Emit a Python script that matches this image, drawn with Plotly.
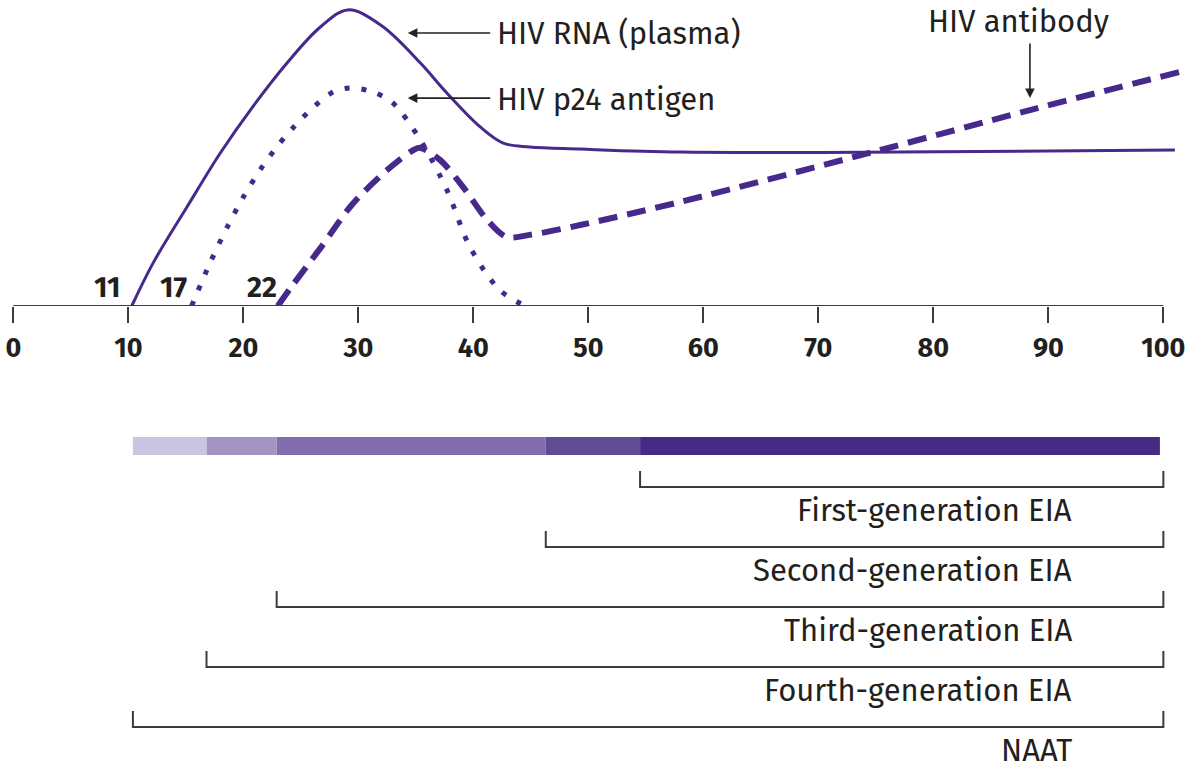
import plotly.graph_objects as go

# ---- data (days since infection, relative level 0-100) ----
rna_days = [10.3, 12.15, 15.1, 18.0, 20.8, 23.8, 26.7, 29.1, 32.0, 35.4, 37.7, 40.6, 42.6, 44.9, 49.3, 58.0, 77.1, 101.0]
rna_level = [0, 14.3, 33, 51, 66.3, 81, 93, 98.7, 93.5, 81, 71, 59.7, 54.3, 53, 52.3, 51.3, 51.3, 52]

p24_days = [15.5, 17.1, 18.6, 20.0, 21.45, 22.9, 24.3, 26.1, 27.8, 29.3, 31.3, 33.0, 35.4, 37.7, 39.7, 42.3, 44.5]
p24_level = [0, 14.3, 26.3, 36.3, 45.3, 53, 59.3, 66.3, 71.3, 72.7, 71.3, 67.7, 55.3, 38.7, 19.7, 5.3, 0]

ab_days = [23.0, 24.3, 26.7, 29.5, 32.5, 34.8, 35.4, 37.1, 39.1, 41.2, 42.9, 44.9, 49.3, 58.0, 75.4, 88.4, 101.4]
ab_level = [0, 7.0, 19.3, 34.0, 45.3, 52, 52.7, 48.7, 39.7, 28.7, 23, 23.7, 27, 34.7, 52, 65.3, 78]

milestone_labels = ["11", "17", "22"]

tick_vals = [0, 10, 20, 30, 40, 50, 60, 70, 80, 90, 100]
tick_text = [str(v) for v in tick_vals]

tests = ["First-generation EIA", "Second-generation EIA", "Third-generation EIA",
         "Fourth-generation EIA", "NAAT"]
test_start = [54.5, 46.3, 22.9, 16.8, 10.4]
test_end = [100, 100, 100, 100, 100]

window_start = [10.4, 16.8, 22.9, 46.3, 54.5]
window_end = [16.8, 22.9, 46.3, 54.5, 99.7]
window_colors = ["#cbc4e0", "#a295c4", "#826eac", "#604c95", "#462b86"]

# ---- styling ----
PURPLE = "#46298a"
TEXT = "#231f20"
FONT = "Fira Sans, Open Sans, sans-serif"
W, H = 1202, 768
X_RANGE = [-1.157, 103.36]
TOP_PX = 306           # baseline pixel height of top panel
ROW_PX = 60
LABEL_SIZE = 31

fig = go.Figure()

# top panel curves
fig.add_trace(go.Scatter(x=rna_days, y=rna_level, mode="lines",
                         line=dict(color=PURPLE, width=3, shape="spline", smoothing=1.0),
                         xaxis="x", yaxis="y", hoverinfo="skip"))
fig.add_trace(go.Scatter(x=p24_days, y=p24_level, mode="lines",
                         line=dict(color=PURPLE, width=5, dash="5px,12px", shape="spline", smoothing=0.9),
                         xaxis="x", yaxis="y", hoverinfo="skip"))
fig.add_trace(go.Scatter(x=ab_days, y=ab_level, mode="lines",
                         line=dict(color=PURPLE, width=6, dash="19px,10px", shape="spline", smoothing=0.9),
                         xaxis="x", yaxis="y", hoverinfo="skip"))

# bottom panel: window bar
fig.add_trace(go.Bar(y=[-0.683] * len(window_start), base=window_start,
                     x=[e - s for s, e in zip(window_start, window_end)],
                     orientation="h", width=0.3, marker=dict(color=window_colors, line=dict(width=0)),
                     xaxis="x2", yaxis="y2", hoverinfo="skip"))

# brackets
tick_h = 16 / ROW_PX
for i, (s, e) in enumerate(zip(test_start, test_end)):
    fig.add_trace(go.Scatter(x=[s, s, e, e], y=[i - tick_h, i, i, i - tick_h], mode="lines",
                             line=dict(color="#3c3c3c", width=2), xaxis="x2", yaxis="y2",
                             hoverinfo="skip"))

annotations = []
for i, name in enumerate(tests):
    annotations.append(dict(x=92.2, y=i + 23 / ROW_PX, xref="x2", yref="y2", text=name,
                            showarrow=False, xanchor="right", yanchor="middle",
                            font=dict(family=FONT, size=LABEL_SIZE, color=TEXT)))

# curve labels
for txt, x, y in [("HIV RNA (plasma)", 41.9, 91.0), ("HIV p24 antigen", 41.9, 68.7)]:
    annotations.append(dict(x=x, y=y, xref="x", yref="y", text=txt, showarrow=False,
                            xanchor="left", yanchor="middle",
                            font=dict(family=FONT, size=LABEL_SIZE, color=TEXT)))
annotations.append(dict(x=87.4, y=94.7, xref="x", yref="y", text="HIV antibody", showarrow=False,
                        xanchor="center", yanchor="middle",
                        font=dict(family=FONT, size=LABEL_SIZE, color=TEXT)))

# arrows
for (hx, hy, tx, ty) in [(34.3, 91.0, 41.6, 91.0), (34.3, 69.3, 41.6, 69.3), (88.4, 69.3, 88.4, 88.0)]:
    annotations.append(dict(x=hx, y=hy, ax=tx, ay=ty, xref="x", yref="y", axref="x", ayref="y",
                            text="", showarrow=True, arrowhead=2, arrowsize=1.2, arrowwidth=1.6,
                            arrowcolor="#222222", standoff=0))

# milestone numbers
for txt, x in zip(milestone_labels, [8.16, 13.97, 21.6]):
    annotations.append(dict(x=x, y=6.3, xref="x", yref="y", text=txt, showarrow=False,
                            xanchor="center", yanchor="middle",
                            font=dict(family=FONT, size=29, color=TEXT, weight="bold")))

top_dom = [1 - TOP_PX / H, 1]
fig.update_layout(
    width=W, height=H, margin=dict(l=0, r=0, t=0, b=0),
    paper_bgcolor="white", plot_bgcolor="white", showlegend=False,
    xaxis=dict(domain=[0, 1], range=X_RANGE, anchor="y", showgrid=False, zeroline=False,
               showline=False, ticks="outside", ticklen=16, tickwidth=2, tickcolor="#3c3c3c",
               tickvals=tick_vals, ticktext=tick_text, ticklabelstandoff=2,
               tickfont=dict(family=FONT, size=27, color=TEXT, weight="bold")),
    yaxis=dict(domain=top_dom, range=[0, TOP_PX / 3], visible=False, fixedrange=True),
    xaxis2=dict(domain=[0, 1], range=X_RANGE, anchor="y2", visible=False),
    yaxis2=dict(domain=[0, 0.5], range=[(768 - 487) / ROW_PX, (384 - 487) / ROW_PX], visible=False),
    annotations=annotations,
    shapes=[dict(type="line", xref="x", yref="y", x0=tick_vals[0], x1=tick_vals[-1], y0=0, y1=0,
                 line=dict(color="#3c3c3c", width=2), layer="below")],
)

fig.write_html("out.html", config={"displayModeBar": False},
               post_script="document.body.style.margin='0';")
